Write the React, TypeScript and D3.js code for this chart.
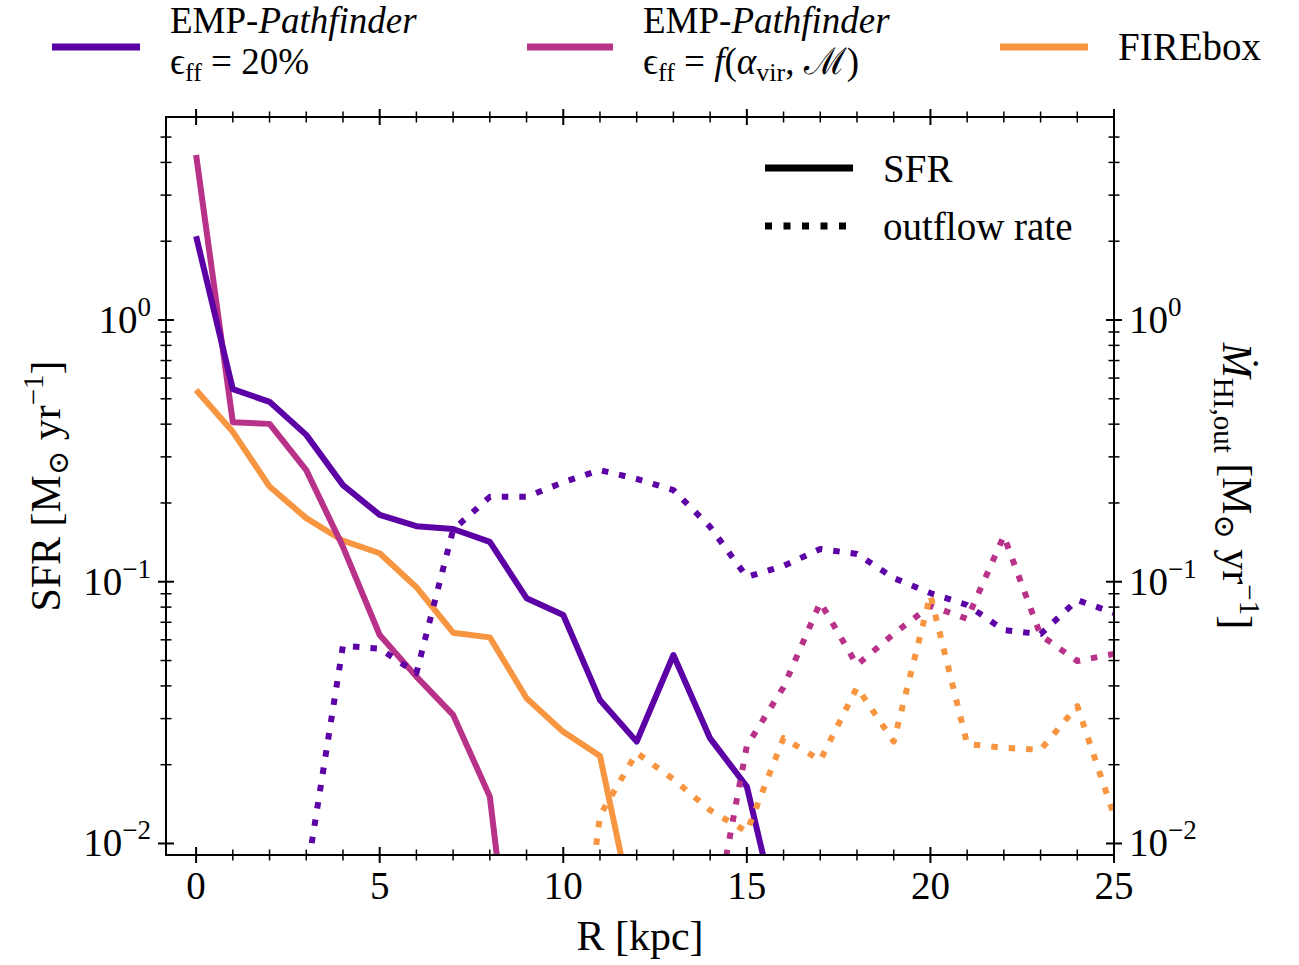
import React from 'react';
import * as d3 from 'd3';

// ---------- data ----------
const radii = [0, 1, 2, 3, 4, 5, 6, 7, 8, 9, 10, 11, 12, 13, 14, 15, 16, 17, 18, 19, 20, 21, 22, 23, 24, 25];

// SFR profiles (solid lines), starting at R = 0
const sfrPurple = [2.09, 0.544, 0.487, 0.364, 0.234, 0.18, 0.163, 0.159, 0.142, 0.0865, 0.0746, 0.0353, 0.0245, 0.0525, 0.0252, 0.0165, 0.0042];
const sfrPink = [4.27, 0.407, 0.401, 0.267, 0.136, 0.0626, 0.0434, 0.031, 0.0151, 0.001];
const sfrOrange = [0.54, 0.374, 0.231, 0.175, 0.1435, 0.1285, 0.0953, 0.0639, 0.0613, 0.0359, 0.0267, 0.0216, 0.0047];

// HI outflow rates (dotted lines)
const outPurpleStart = 3;
const outPurple = [0.0074, 0.057, 0.0555, 0.0448, 0.158, 0.211, 0.211, 0.24, 0.267, 0.247, 0.224, 0.162, 0.1043, 0.115, 0.1334, 0.1277, 0.1033, 0.0905, 0.0815, 0.0654, 0.0631, 0.0851, 0.076];
const outPinkStart = 14;
const outPink = [0.0042, 0.0236, 0.0396, 0.0834, 0.0481, 0.0632, 0.081, 0.0721, 0.1496, 0.0625, 0.0498, 0.053];
const outOrangeStart = 10;
const outOrange = [0.001, 0.0128, 0.0222, 0.0176, 0.0134, 0.0111, 0.0253, 0.0208, 0.0395, 0.0245, 0.089, 0.024, 0.0232, 0.0228, 0.0335, 0.0128];

const xMajorTicks = [0, 5, 10, 15, 20, 25];
const xMinorTicks = [1, 2, 3, 4, 6, 7, 8, 9, 11, 12, 13, 14, 16, 17, 18, 19, 21, 22, 23, 24];
const yMajorTicks = [0.01, 0.1, 1];
const yMajorExp = ['\u22122', '\u22121', '0'];
const yMinorMult = [2, 3, 4, 5, 6, 7, 8, 9];
const yMinorDecades = [0.01, 0.1, 1];

// ---------- layout ----------
const W = 1299;
const H = 965;
const L = 166, Rt = 1114, T = 117, B = 855;
const PURPLE = '#5c01a6';
const PINK = '#b93289';
const ORANGE = '#f89540';
const FONT = '"Liberation Serif", "DejaVu Serif", serif';
const LW = 6;
const DASH = '6.5 11';

export default function App() {
  const x = d3.scaleLinear().domain([-0.82, 25]).range([L, Rt]);
  const y = d3.scaleLog().domain([Math.pow(10, -2.044), Math.pow(10, 0.7756)]).range([B, T]);
  const yR = y.copy();

  const line = d3.line<[number, number]>().x(d => x(d[0])).y(d => y(d[1]));
  const lineR = d3.line<[number, number]>().x(d => x(d[0])).y(d => yR(d[1]));

  const pts = (vals: number[], start: number) =>
    vals.map((v, i) => [radii[start + i], v] as [number, number]);

  const [yMin, yMax] = y.domain();
  const yMinor: number[] = [];
  yMinorDecades.forEach(d => yMinorMult.forEach(m => {
    const v = d * m;
    if (v > yMin && v < yMax) yMinor.push(v);
  }));

  const tickLineProps = { stroke: '#000' };
  const MAJ = 8, MIN = 5.5;

  return (
    <svg width={W} height={H} style={{ position: 'absolute', left: 0, top: 0, background: '#fff' }}
      fontFamily={FONT}>
      <defs>
        <clipPath id="plotclip">
          <rect x={L} y={T} width={Rt - L} height={B - T} />
        </clipPath>
      </defs>
      <rect x={0} y={0} width={W} height={H} fill="#fff" />

      {/* data */}
      <g clipPath="url(#plotclip)" fill="none" strokeLinejoin="round">
        <path d={line(pts(sfrOrange, 0)) || ''} stroke={ORANGE} strokeWidth={LW} />
        <path d={line(pts(sfrPink, 0)) || ''} stroke={PINK} strokeWidth={LW} />
        <path d={line(pts(sfrPurple, 0)) || ''} stroke={PURPLE} strokeWidth={LW} />
        <path d={lineR(pts(outPurple, outPurpleStart)) || ''} stroke={PURPLE} strokeWidth={LW} strokeDasharray={DASH} />
        <path d={lineR(pts(outPink, outPinkStart)) || ''} stroke={PINK} strokeWidth={LW} strokeDasharray={DASH} />
        <path d={lineR(pts(outOrange, outOrangeStart)) || ''} stroke={ORANGE} strokeWidth={LW} strokeDasharray={DASH} />
      </g>

      {/* spines */}
      <rect x={L} y={T} width={Rt - L} height={B - T} fill="none" stroke="#000" strokeWidth={2} />

      {/* x ticks (bottom & top, in-out) */}
      {xMajorTicks.map(t => (
        <g key={'xM' + t}>
          <line x1={x(t)} x2={x(t)} y1={B - MAJ} y2={B + MAJ} {...tickLineProps} strokeWidth={2} />
          <line x1={x(t)} x2={x(t)} y1={T - MAJ} y2={T + MAJ} {...tickLineProps} strokeWidth={2} />
          <text x={x(t)} y={899} textAnchor="middle" fontSize={39}>{t}</text>
        </g>
      ))}
      {xMinorTicks.map(t => (
        <g key={'xm' + t}>
          <line x1={x(t)} x2={x(t)} y1={B - MIN} y2={B + MIN} {...tickLineProps} strokeWidth={1.5} />
          <line x1={x(t)} x2={x(t)} y1={T - MIN} y2={T + MIN} {...tickLineProps} strokeWidth={1.5} />
        </g>
      ))}

      {/* y ticks (left & right, in-out) */}
      {yMajorTicks.map((t, i) => (
        <g key={'yM' + t}>
          <line x1={L - MAJ} x2={L + MAJ} y1={y(t)} y2={y(t)} {...tickLineProps} strokeWidth={2} />
          <line x1={Rt - MAJ} x2={Rt + MAJ} y1={yR(t)} y2={yR(t)} {...tickLineProps} strokeWidth={2} />
          <text x={151} y={y(t) + 13} textAnchor="end" fontSize={39}>
            10<tspan dy={-17} fontSize={27}>{yMajorExp[i]}</tspan>
          </text>
          <text x={1129} y={yR(t) + 13} textAnchor="start" fontSize={39}>
            10<tspan dy={-17} fontSize={27}>{yMajorExp[i]}</tspan>
          </text>
        </g>
      ))}
      {yMinor.map(t => (
        <g key={'ym' + t}>
          <line x1={L - MIN} x2={L + MIN} y1={y(t)} y2={y(t)} {...tickLineProps} strokeWidth={1.5} />
          <line x1={Rt - MIN} x2={Rt + MIN} y1={yR(t)} y2={yR(t)} {...tickLineProps} strokeWidth={1.5} />
        </g>
      ))}

      {/* axis labels */}
      <text x={(L + Rt) / 2} y={950} textAnchor="middle" fontSize={42}>R [kpc]</text>
      <text transform={`translate(60, ${(T + B) / 2}) rotate(-90)`} textAnchor="middle" fontSize={42}>
        SFR [M<tspan dy={8} fontSize={29}>{'\u2299'}</tspan><tspan dy={-8}> yr</tspan>
        <tspan dy={-17} fontSize={29}>{'\u22121'}</tspan><tspan dy={17}>]</tspan>
      </text>
      <text transform={`translate(1223, ${(T + B) / 2}) rotate(90)`} textAnchor="middle" fontSize={42}>
        <tspan fontStyle="italic">{'\u1E40'}</tspan>
        <tspan dy={9} fontSize={29}>HI,out</tspan>
        <tspan dy={-9}> [M</tspan><tspan dy={8} fontSize={29}>{'\u2299'}</tspan><tspan dy={-8}> yr</tspan>
        <tspan dy={-17} fontSize={29}>{'\u22121'}</tspan><tspan dy={17}>]</tspan>
      </text>

      {/* top legend */}
      <g fontSize={37}>
        <line x1={52} x2={140} y1={47} y2={47} stroke={PURPLE} strokeWidth={7} />
        <text x={170} y={33}>EMP-<tspan fontStyle="italic">Pathfinder</tspan></text>
        <text x={170} y={74}>{'\u03F5'}<tspan dy={7} fontSize={26}>ff</tspan><tspan dy={-7}> = 20%</tspan></text>

        <line x1={527} x2={613} y1={47} y2={47} stroke={PINK} strokeWidth={7} />
        <text x={643} y={33}>EMP-<tspan fontStyle="italic">Pathfinder</tspan></text>
        <text x={643} y={74}>{'\u03F5'}<tspan dy={7} fontSize={26}>ff</tspan><tspan dy={-7}> = </tspan>
          <tspan fontStyle="italic">f</tspan>(<tspan fontStyle="italic">{'\u03B1'}</tspan>
          <tspan dy={7} fontSize={26}>vir</tspan><tspan dy={-7}>, </tspan>
          <tspan fontFamily='"DejaVu Serif", serif'>{'\u2133'}</tspan>)</text>

        <line x1={1000} x2={1088} y1={47} y2={47} stroke={ORANGE} strokeWidth={7} />
        <text x={1118} y={60} fontSize={39}>FIREbox</text>
      </g>

      {/* inner legend */}
      <g fontSize={39}>
        <line x1={765} x2={853} y1={168} y2={168} stroke="#000" strokeWidth={7} />
        <text x={883} y={182}>SFR</text>
        <line x1={765} x2={853} y1={226} y2={226} stroke="#000" strokeWidth={7} strokeDasharray="7 11.5" />
        <text x={883} y={240}>outflow rate</text>
      </g>
    </svg>
  );
}
